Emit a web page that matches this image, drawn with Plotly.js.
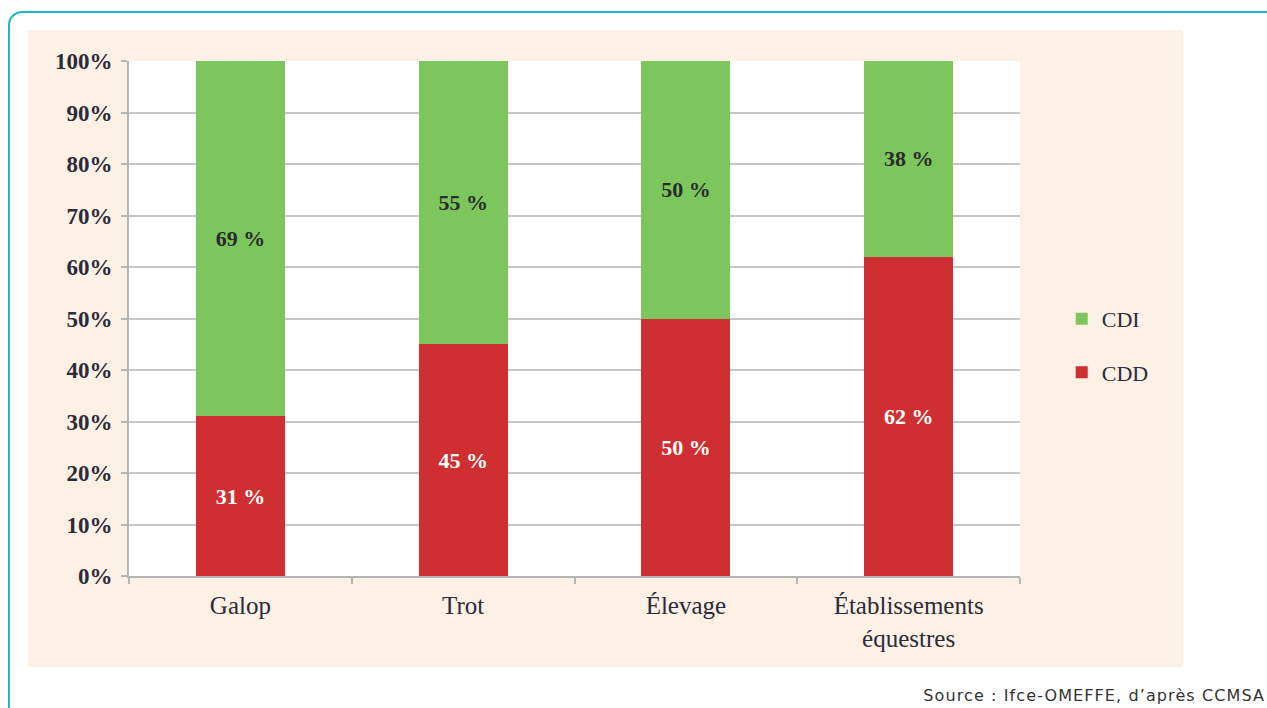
<!DOCTYPE html>
<html>
<head>
<meta charset="utf-8">
<script src="https://cdn.plot.ly/plotly-3.0.1.min.js"></script>
<style>
  html, body { margin: 0; padding: 0; background: #ffffff; width: 1267px; height: 708px; overflow: hidden; }
  #frame { position: absolute; left: 8px; top: 11px; width: 1300px; height: 760px;
           border: 2px solid #1BB8CB; border-radius: 14px; box-sizing: border-box; }
  #panel { position: absolute; left: 28px; top: 30px; width: 1155px; height: 637px; background: #FDF0E5; }
  #chart { position: absolute; left: 0; top: 0; width: 1155px; height: 637px; }
  #source { position: absolute; right: 2px; top: 686px; font-family: "DejaVu Sans", sans-serif;
            font-size: 16px; letter-spacing: 1.1px; color: #333333; white-space: nowrap; }
</style>
</head>
<body>
<div id="frame"></div>
<div id="panel"><div id="chart"></div></div>
<div id="source">Source : Ifce-OMEFFE, d’après CCMSA</div>
<script>
const categories = ["Galop", "Trot", "Élevage", "Établissements<br>équestres"];
const cddValues = [31, 45, 50, 62];
const cdiValues = [69, 55, 50, 38];
const cddLabels = ["31 %", "45 %", "50 %", "62 %"];
const cdiLabels = ["69 %", "55 %", "50 %", "38 %"];
const yTickVals = [0, 10, 20, 30, 40, 50, 60, 70, 80, 90, 100];
const yTickText = ["0%", "10%", "20%", "30%", "40%", "50%", "60%", "70%", "80%", "90%", "100%"];

const serif = "'Liberation Serif', 'DejaVu Serif', serif";

const traces = [
  {
    type: "bar", name: "CDD", x: categories, y: cddValues,
    text: cddLabels, textposition: "inside", insidetextanchor: "middle",
    textfont: { family: serif, size: 22, color: "#ffffff", weight: "bold" },
    marker: { color: "#CF2F31", line: { width: 0 } },
    legendgroup: "b", legendrank: 2, hoverinfo: "skip"
  },
  {
    type: "bar", name: "CDI", x: categories, y: cdiValues,
    text: cdiLabels, textposition: "inside", insidetextanchor: "middle",
    textfont: { family: serif, size: 22, color: "#2b2b2b", weight: "bold" },
    marker: { color: "#7DC65E", line: { width: 0 } },
    legendgroup: "a", legendrank: 1, hoverinfo: "skip"
  }
];

const layout = {
  width: 1155, height: 637,
  margin: { l: 101, r: 163, t: 31, b: 91, pad: 0 },
  font: { family: serif, color: "#2b2b3a" },
  paper_bgcolor: "rgba(0,0,0,0)",
  plot_bgcolor: "#ffffff",
  barmode: "stack",
  bargap: 0.6,
  showlegend: true,
  legend: {
    xref: "container", yref: "container",
    x: 0.895, xanchor: "left", y: 0.504, yanchor: "middle",
    traceorder: "grouped", tracegroupgap: 22,
    font: { family: serif, size: 22, color: "#2b2b3a" },
    bgcolor: "rgba(0,0,0,0)", itemwidth: 30
  },
  xaxis: {
    type: "category",
    showline: true, linecolor: "#b5b5b5", linewidth: 2,
    ticks: "outside", tickson: "boundaries", ticklen: 6, tickcolor: "#b5b5b5", tickwidth: 2,
    showgrid: false,
    tickfont: { family: serif, size: 25, color: "#2b2b3a" },
    ticklabelstandoff: 6,
    fixedrange: true
  },
  yaxis: {
    range: [0, 100],
    tickvals: yTickVals, ticktext: yTickText,
    showline: true, linecolor: "#b5b5b5", linewidth: 2,
    ticks: "outside", ticklen: 6, tickcolor: "#b5b5b5", tickwidth: 2,
    showgrid: true, gridcolor: "#c6c6c6", gridwidth: 2,
    zeroline: false,
    tickfont: { family: serif, size: 23, color: "#2b2b3a", weight: "bold" },
    ticklabelstandoff: 4,
    fixedrange: true
  }
};

Plotly.newPlot("chart", traces, layout, { displayModeBar: false, staticPlot: true });
</script>
</body>
</html>
